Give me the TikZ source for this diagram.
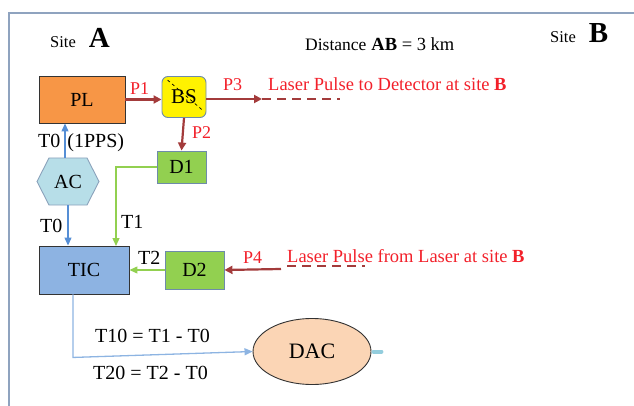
\documentclass[tikz,border=0pt]{standalone}
\usepackage{fontspec}
\setmainfont{Liberation Serif}
\usetikzlibrary{arrows.meta,shapes.geometric}
\definecolor{frameC}{HTML}{8FA3BF}
\definecolor{plC}{HTML}{F79646}
\definecolor{greenC}{HTML}{92D050}
\definecolor{grayB}{HTML}{6E8BAA}
\definecolor{acC}{HTML}{B7DEE8}
\definecolor{ticC}{HTML}{8DB3E2}
\definecolor{dacC}{HTML}{FBD5B5}
\definecolor{pulseC}{HTML}{A33B3B}
\definecolor{redT}{HTML}{F2202A}
\definecolor{blueA}{HTML}{558ED5}
\definecolor{blueL}{HTML}{8DB4E2}
\definecolor{stubC}{HTML}{93CDDD}
\tikzset{
  box/.style={draw=#1, line width=0.9pt, minimum width=40pt, minimum height=30pt, inner sep=0pt, font=\fontsize{20}{22}\selectfont},
  lbl/.style={inner sep=0pt, anchor=base west, font=\fontsize{20}{22}\selectfont},
  rlbl/.style={inner sep=0pt, anchor=base west, text=redT, font=\fontsize{18}{20}\selectfont},
  pulse/.style={draw=pulseC, line width=2.2pt, -{Triangle[length=8pt,width=8pt]}},
  pdash/.style={draw=pulseC, line width=1.6pt, dash pattern=on 9pt off 6pt},
  garrow/.style={draw=greenC, line width=1.3pt, -{Triangle[length=8pt,width=7pt]}},
  barrow/.style={draw=blueA, line width=1.3pt, -{Triangle[length=8pt,width=7pt]}},
}
\begin{document}
\begin{tikzpicture}[x=1pt,y=-1pt]
\useasboundingbox (0,0) rectangle (634,406);
% frame
\coordinate (fTL) at (9,13);
\coordinate (fTR) at (634,13);
\coordinate (fBL) at (9,406);
\draw[frameC, line width=1.2pt] (fBL) -- (fTL) -- (fTR);

% headings
\node[lbl] (siteA) at (50,48) {{\fontsize{16.5}{18}\selectfont Site}\hspace{13pt}{\fontsize{29}{30}\selectfont\bfseries A}};
\node[lbl] (dist) at (305,51) {{\fontsize{17.5}{19}\selectfont Distance} {\fontsize{18.5}{20}\selectfont\bfseries AB}{\fontsize{18.5}{20}\selectfont\ = 3 km}};
\node[lbl] (siteB) at (550,43) {{\fontsize{16.5}{18}\selectfont Site}\hspace{13pt}{\fontsize{29}{30}\selectfont\bfseries B}};

% nodes
\node[box=black!80, fill=plC, minimum width=86pt, minimum height=47pt] (PL) at (82,99.5) {PL};
\node[box=grayB, fill=yellow, rounded corners=6pt, minimum width=44pt, minimum height=41pt, font=\fontsize{21}{22}\selectfont] (BS) at (184,97) {BS};
\draw[black, line width=0.7pt, dashed] ([xshift=6pt,yshift=-4pt]BS.north west) -- ([xshift=-3pt,yshift=7pt]BS.south east);
\node[box=grayB, fill=greenC, minimum width=49pt, minimum height=32pt] (D1) at (181.5,167) {D1};
\draw[draw=grayB!80, fill=acC, line width=0.9pt] (37,181.5) -- (49,158) -- (87,158) -- (99,181.5) -- (87,205) -- (49,205) -- cycle;
\node[inner sep=0pt, minimum width=60pt, minimum height=47pt, font=\fontsize{20}{22}\selectfont] (AC) at (68,181.5) {AC};
\node[box=black!80, fill=ticC, minimum width=90pt, minimum height=48pt] (TIC) at (84,270) {TIC};
\node[box=grayB, fill=greenC, minimum width=59pt, minimum height=38pt] (D2) at (194.5,270) {D2};
\node[box=black!80, ellipse, fill=dacC, minimum width=118pt, minimum height=66pt, font=\fontsize{22}{24}\selectfont] (DAC) at (312,351.5) {DAC};

% pulses
\draw[pulse] (PL.east) -- (PL.east -| BS.west);
\coordinate (p3end) at (262,99);
\coordinate (p3far) at (340,99);
\draw[pulse] (BS.east |- p3end) -- (p3end);
\draw[pdash] (p3end) -- (p3far);
\draw[pulse] (BS.south) -- (D1.north);
\coordinate (p4start) at (281,269);
\coordinate (p4a) at (287,266);
\coordinate (p4b) at (365,266);
\draw[pulse] (p4start) -- (D2.east);
\draw[pdash] (p4a) -- (p4b);

% signals
\draw[barrow] ([xshift=-3pt]AC.north) -- ([xshift=-3pt]AC.north |- PL.south);
\draw[barrow] (AC.south) -- (AC.south |- TIC.north);
\coordinate (t1) at (116,246);
\draw[garrow] (D1.west) -| (t1);
\draw[garrow] (D2.west) -- (TIC.east);
\draw[draw=blueL, line width=1.3pt, -{Triangle[length=8pt,width=7pt]}] ([xshift=-11pt]TIC.south) -- ++(0,63) -- (DAC.west);
\draw[stubC, line width=4pt, line cap=round] ([xshift=2pt]DAC.east) -- ++(8,0);

% labels
\node[rlbl] (lP1) at (130,95) {P1};
\node[rlbl] (lP3) at (223,91) {P3};
\node[rlbl] (lP2) at (192,139) {P2};
\node[rlbl, font=\fontsize{18.5}{20}\selectfont] (lP3t) at (268,91) {Laser Pulse to Detector at site \textbf{B}};
\node[rlbl] (lP4) at (243,263) {P4};
\node[rlbl, font=\fontsize{18.5}{20}\selectfont] (lP4t) at (287,262) {Laser Pulse from Laser at site \textbf{B}};
\node[lbl] (lT0a) at (38,148) {T0\hspace{7pt}(1PPS)};
\node[lbl] (lT0b) at (40,233) {T0};
\node[lbl] (lT1) at (121,228) {T1};
\node[lbl] (lT2) at (138,264) {T2};
\node[lbl] (lT10) at (95,342) {T10 = T1 - T0};
\node[lbl] (lT20) at (93,379) {T20 = T2 - T0};
\end{tikzpicture}
\end{document}
